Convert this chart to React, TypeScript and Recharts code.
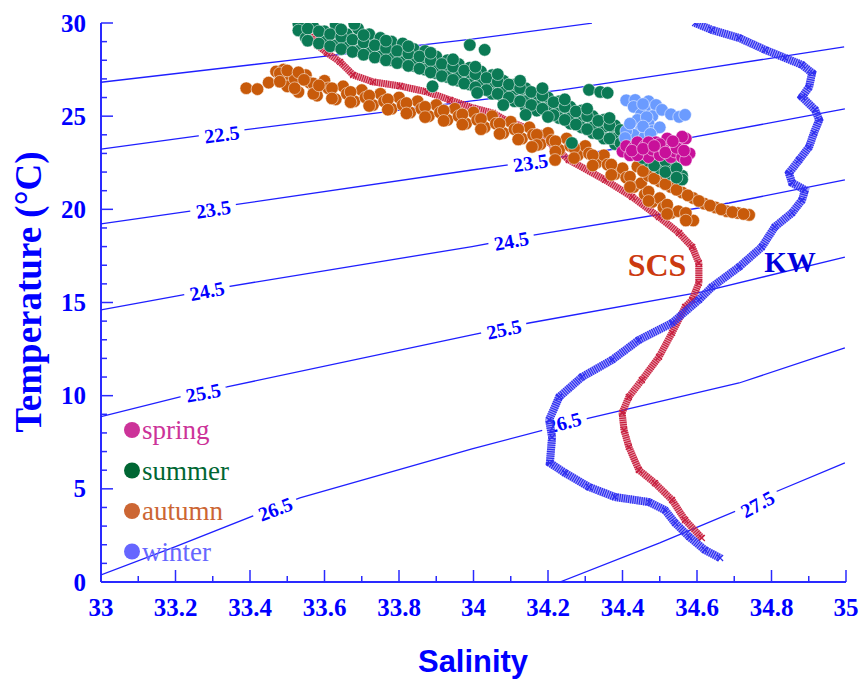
import React from 'react'
import { ComposedChart, Scatter, XAxis, YAxis } from 'recharts'

type P = { s: number; t: number }
const pts = (rows: number[][]): P[] => rows.map(([s, t]) => ({ s, t }))

const xTicks = [33, 33.1, 33.2, 33.3, 33.4, 33.5, 33.6, 33.7, 33.8, 33.9, 34, 34.1, 34.2, 34.3, 34.4, 34.5, 34.6, 34.7, 34.8, 34.9, 35]
const yTicks = [0, 1, 2, 3, 4, 5, 6, 7, 8, 9, 10, 11, 12, 13, 14, 15, 16, 17, 18, 19, 20, 21, 22, 23, 24, 25, 26, 27, 28, 29, 30]

// isopycnals (sigma-theta)
const sigma215 = pts([[33.0, 26.82], [33.5, 27.98], [33.996, 29.13], [34.318, 29.99]])
const sigma225 = pts([[33.0, 23.23], [33.32, 24.1], [33.996, 25.82], [34.238, 26.41], [34.6, 27.5], [34.995, 28.72]])
const sigma235 = pts([[33.0, 19.22], [33.3, 20.08], [33.996, 22.11], [34.149, 22.54], [34.579, 23.83], [34.997, 25.39]])
const sigma245 = pts([[33.0, 14.6], [33.22, 15.41], [33.285, 15.67], [33.996, 18.0], [34.165, 18.63], [34.686, 20.34], [34.997, 21.58]])
const sigma255 = pts([[33.0, 8.87], [33.266, 10.2], [33.338, 10.47], [33.996, 13.26], [34.149, 13.9], [34.613, 15.57], [34.997, 17.44]])
const sigma265 = pts([[33.0, 0.38], [33.2, 1.9], [33.462, 3.97], [33.534, 4.51], [33.996, 7.14], [34.31, 8.8], [34.713, 10.68], [34.997, 12.56]])
const sigma275 = pts([[34.232, 0.0], [34.5, 2.1], [34.756, 4.24], [34.81, 4.83], [34.997, 6.39]])

const contours = [sigma215, sigma225, sigma235, sigma245, sigma255, sigma265, sigma275]

const contourLabels = [
  { s: 33.324, t: 24.08, sigma: '22.5' },
  { s: 33.301, t: 20.06, sigma: '23.5' },
  { s: 33.284, t: 15.67, sigma: '24.5' },
  { s: 33.274, t: 10.21, sigma: '25.5' },
  { s: 33.467, t: 3.96, sigma: '26.5' },
  { s: 34.153, t: 22.56, sigma: '23.5' },
  { s: 34.101, t: 18.36, sigma: '24.5' },
  { s: 34.081, t: 13.62, sigma: '25.5' },
  { s: 34.242, t: 8.61, sigma: '26.5' },
  { s: 34.761, t: 4.22, sigma: '27.5' },
]

// reference profiles
const scsProfile = pts([
  [33.569, 30.0], [33.574, 29.09], [33.58, 28.82], [33.607, 28.4], [33.642, 27.91], [33.677, 27.21],
  [33.73, 26.84], [33.803, 26.62], [33.875, 26.3], [33.937, 25.87], [33.999, 25.44], [34.052, 25.17],
  [34.085, 24.8], [34.176, 24.1], [34.213, 23.4], [34.256, 22.65], [34.353, 21.58], [34.426, 20.67],
  [34.498, 19.59], [34.552, 18.73], [34.587, 17.98], [34.605, 17.12], [34.605, 16.05], [34.587, 15.14],
  [34.568, 14.76], [34.533, 13.37], [34.498, 12.08], [34.452, 10.84], [34.417, 9.93], [34.399, 9.07],
  [34.404, 8.16], [34.417, 7.25], [34.444, 6.01], [34.487, 5.31], [34.533, 4.4], [34.568, 3.33],
  [34.613, 2.36],
])

const kwProfile = pts([
  [34.595, 30.0], [34.64, 29.63], [34.713, 29.2], [34.783, 28.56], [34.836, 28.13], [34.882, 27.75],
  [34.909, 27.32], [34.901, 26.57], [34.882, 26.03], [34.917, 25.34], [34.928, 24.8], [34.914, 24.1],
  [34.901, 23.35], [34.874, 22.65], [34.847, 21.95], [34.855, 21.42], [34.89, 21.04], [34.882, 20.5],
  [34.855, 19.81], [34.809, 19.06], [34.774, 17.98], [34.713, 16.91], [34.64, 15.83], [34.605, 15.14],
  [34.533, 13.9], [34.444, 12.99], [34.372, 11.92], [34.291, 11.0], [34.23, 9.93], [34.203, 8.7],
  [34.211, 7.78], [34.205, 6.39], [34.246, 5.85], [34.31, 5.1], [34.38, 4.56], [34.471, 4.29],
  [34.514, 3.86], [34.541, 3.17], [34.579, 2.42], [34.621, 1.72], [34.662, 1.29],
])

// seasonal observations
const summer = pts([
  [33.53, 29.95], [33.53, 29.6], [33.55, 29.2], [33.57, 29.8], [33.6, 29.55], [33.6, 29.0], [33.63, 29.9], [33.63, 28.8],
  [33.66, 29.4], [33.66, 28.9], [33.69, 29.2], [33.69, 28.5], [33.69, 29.7], [33.72, 29.0], [33.72, 28.4], [33.72, 29.4],
  [33.75, 28.8], [33.75, 28.2], [33.75, 29.2], [33.78, 28.6], [33.78, 28.0], [33.78, 29.0], [33.78, 28.3],
  [33.81, 28.5], [33.81, 27.9], [33.81, 28.9], [33.84, 28.3], [33.84, 27.7], [33.84, 28.6], [33.84, 28.0],
  [33.87, 28.1], [33.87, 27.5], [33.87, 28.5], [33.9, 27.9], [33.9, 27.3], [33.9, 28.2], [33.9, 27.6],
  [33.93, 27.7], [33.93, 27.1], [33.93, 28.0], [33.96, 27.5], [33.96, 26.9], [33.96, 27.8], [33.96, 27.2],
  [33.99, 27.3], [33.99, 26.7], [33.99, 27.6], [34.02, 27.1], [34.02, 26.4], [34.02, 27.4], [34.02, 26.8],
  [34.05, 26.8], [34.05, 26.2], [34.05, 27.2], [34.08, 26.6], [34.08, 26.0], [34.08, 26.9], [34.08, 26.3],
  [34.11, 26.4], [34.11, 25.8], [34.11, 26.7], [34.14, 26.1], [34.14, 25.5], [34.14, 26.5], [34.14, 25.8],
  [34.17, 25.9], [34.17, 25.3], [34.17, 26.2], [34.2, 25.7], [34.2, 25.1], [34.2, 26.0], [34.2, 25.4],
  [34.23, 25.4], [34.23, 24.9], [34.23, 25.8], [34.26, 25.2], [34.26, 24.6], [34.26, 25.5], [34.26, 24.9],
  [34.29, 24.9], [34.29, 24.4], [34.29, 25.3], [34.32, 24.7], [34.32, 24.1], [34.32, 25.0], [34.32, 24.4],
  [34.35, 24.4], [34.35, 23.8], [34.35, 24.8], [34.38, 24.1], [34.38, 23.5], [34.38, 24.5], [34.38, 23.8],
  [34.41, 23.8], [34.41, 23.2], [34.41, 24.2], [34.44, 23.4], [34.44, 22.9], [34.44, 23.8], [34.44, 23.1],
  [34.47, 23.0], [34.47, 22.6], [34.47, 23.4], [34.5, 22.6], [34.5, 22.2], [34.5, 22.9], [34.53, 22.2],
  [34.53, 21.9], [34.53, 22.5], [34.56, 21.8], [34.56, 21.6],
  [33.555, 29.7], [33.555, 29.05], [33.585, 29.55], [33.585, 28.9], [33.615, 29.4], [33.615, 28.75],
  [33.645, 29.25], [33.645, 28.6], [33.645, 29.65], [33.675, 29.1], [33.675, 28.45], [33.705, 28.95],
  [33.705, 28.3], [33.705, 29.35], [33.735, 28.8], [33.735, 28.15], [33.765, 28.65], [33.765, 28.0],
  [33.765, 29.05], [33.795, 28.5], [33.795, 27.85], [33.825, 28.35], [33.825, 27.7], [33.825, 28.75],
  [33.855, 28.2], [33.855, 27.55], [33.885, 28.0], [33.885, 27.35], [33.885, 28.4], [33.915, 27.8],
  [33.915, 27.15], [33.945, 27.65], [33.945, 26.95], [33.945, 28.05], [33.975, 27.45], [33.975, 26.75],
  [34.005, 27.25], [34.005, 26.55], [34.005, 27.65], [34.035, 27.05], [34.035, 26.4], [34.065, 26.85],
  [34.065, 26.2], [34.065, 27.25], [34.095, 26.7], [34.095, 26.0], [34.125, 26.5], [34.125, 25.8],
  [34.125, 26.9], [34.155, 26.3], [34.155, 25.6], [34.185, 26.1], [34.185, 25.4], [34.185, 26.5],
  [34.215, 25.75], [34.215, 25.05], [34.245, 25.5], [34.245, 24.8], [34.245, 25.9], [34.275, 25.25],
  [34.275, 24.55], [34.305, 25.0], [34.305, 24.3], [34.305, 25.4], [34.335, 24.75], [34.335, 24.05],
  [34.365, 24.5], [34.365, 23.8], [34.365, 24.9], [34.395, 24.25], [34.395, 23.55], [34.425, 23.85],
  [34.425, 23.15], [34.455, 23.45], [34.455, 22.75], [34.485, 23.0], [34.485, 22.35], [34.515, 22.6],
  [34.515, 22.0], [34.545, 22.2], [34.545, 21.7],
  [33.99, 28.82], [34.03, 28.56], [34.31, 26.41], [34.34, 26.3], [34.36, 26.25], [33.68, 29.95],
  [33.89, 26.6], [34.01, 26.25], [34.08, 25.6], [34.14, 25.07], [34.2, 24.96], [34.264, 23.56],
])

const autumn = pts([
  [33.39, 26.5], [33.42, 26.45], [33.45, 26.8],
  [33.47, 27.4], [33.49, 27.5], [33.51, 27.1], [33.5, 26.6], [33.53, 26.3], [33.55, 27.2], [33.56, 26.8],
  [33.58, 26.1], [33.6, 26.9], [33.61, 26.5], [33.63, 25.9], [33.65, 26.6], [33.66, 26.2], [33.68, 25.8],
  [33.7, 26.4], [33.71, 26.0], [33.73, 25.6], [33.75, 26.2], [33.76, 25.8], [33.78, 25.4], [33.8, 26.0],
  [33.81, 25.6], [33.83, 25.2], [33.85, 25.8], [33.86, 25.4], [33.88, 25.0], [33.9, 25.6], [33.91, 25.2],
  [33.93, 24.8], [33.95, 25.4], [33.96, 25.0], [33.98, 24.6], [34.0, 25.2], [34.01, 24.8], [34.03, 24.4],
  [34.05, 25.0], [34.06, 24.6], [34.08, 24.1], [34.1, 24.7], [34.11, 24.3], [34.13, 23.8], [34.15, 24.4],
  [34.16, 24.0], [34.18, 23.5], [34.2, 24.1], [34.21, 23.7], [34.23, 23.2], [34.25, 23.8], [34.26, 23.4],
  [34.28, 22.9], [34.3, 23.4], [34.31, 23.0], [34.33, 22.5], [34.35, 22.9], [34.36, 22.4], [34.38, 21.9],
  [34.4, 22.2], [34.41, 21.7], [34.43, 21.2], [34.45, 21.4], [34.46, 20.8], [34.48, 20.4], [34.5, 20.6],
  [34.51, 20.1], [34.53, 19.8], [34.55, 19.9], [34.57, 19.5], [34.59, 19.4],
  [33.48, 27.3], [33.48, 26.85], [33.52, 27.0], [33.52, 26.5], [33.57, 26.75], [33.57, 26.2], [33.62, 26.5],
  [33.62, 25.95], [33.67, 26.3], [33.67, 25.75], [33.72, 26.1], [33.72, 25.55], [33.77, 25.9], [33.77, 25.35],
  [33.82, 25.7], [33.82, 25.15], [33.87, 25.5], [33.87, 24.95], [33.92, 25.3], [33.92, 24.75], [33.97, 25.1],
  [33.97, 24.55], [34.02, 24.85], [34.02, 24.3], [34.07, 24.6], [34.07, 24.05], [34.12, 24.3], [34.12, 23.75],
  [34.17, 24.0], [34.17, 23.45], [34.22, 23.65], [34.22, 23.1], [34.27, 23.3], [34.27, 22.75], [34.32, 22.9],
  [34.32, 22.35], [34.37, 22.4], [34.37, 21.85], [34.42, 21.75], [34.42, 21.2], [34.47, 20.95], [34.47, 20.45],
  [34.52, 20.25], [34.52, 19.75], [34.57, 19.8], [34.57, 19.4],
  [33.5, 27.45], [33.53, 27.35], [33.545, 26.95], [33.585, 26.65],
  [34.44, 22.3], [34.47, 21.8], [34.5, 21.5], [34.53, 21.2], [34.56, 20.9], [34.59, 20.6], [34.62, 20.3],
  [34.65, 20.1], [34.68, 19.9], [34.71, 19.8], [34.74, 19.7],
  [34.455, 22.05], [34.485, 21.65], [34.515, 21.35], [34.545, 21.05], [34.575, 20.75], [34.605, 20.45],
  [34.635, 20.2], [34.665, 20.0], [34.695, 19.85], [34.725, 19.75],
  [34.219, 22.65], [34.157, 23.35],
])

const spring = pts([
  [34.4, 23.1], [34.41, 23.4], [34.42, 22.9], [34.43, 23.3], [34.44, 23.6], [34.45, 23.0], [34.46, 23.4],
  [34.47, 22.8], [34.48, 23.2], [34.49, 23.6], [34.5, 22.9], [34.51, 23.3], [34.52, 23.8], [34.53, 22.8],
  [34.54, 23.1], [34.55, 23.5], [34.56, 22.8], [34.57, 23.8], [34.58, 23.0], [34.56, 23.9], [34.5, 23.5],
  [34.47, 23.6], [34.44, 22.9], [34.57, 22.65], [34.425, 23.15], [34.455, 23.25], [34.485, 23.4],
  [34.515, 23.05], [34.545, 23.3], [34.535, 23.65], [34.565, 23.15],
])

const winter = pts([
  [34.41, 25.85], [34.434, 25.87], [34.47, 25.8], [34.43, 25.5], [34.46, 25.4], [34.49, 25.6], [34.45, 25.1],
  [34.48, 25.0], [34.44, 24.8], [34.47, 24.6], [34.45, 24.3], [34.48, 24.2], [34.43, 24.0], [34.46, 23.9],
  [34.41, 24.2], [34.407, 23.83], [34.506, 25.34], [34.53, 25.1], [34.552, 24.96], [34.568, 25.07],
  [34.5, 24.4], [34.42, 24.6], [34.455, 25.65], [34.465, 24.95], [34.455, 24.45], [34.475, 24.05],
])

const seasons = [
  { name: 'spring', data: spring, fill: '#c8109a', legend: '#cc3399' },
  { name: 'summer', data: summer, fill: '#0b7a55', legend: '#006633' },
  { name: 'autumn', data: autumn, fill: '#c85a0a', legend: '#cc6633' },
  { name: 'winter', data: winter, fill: '#6b9bff', legend: '#6666ff' },
]
const drawOrder = ['autumn', 'summer', 'winter', 'spring']

const AXIS = '#2a2aff'
const FONT = '"Liberation Serif", "Times New Roman", serif'
const W = 861
const H = 681
const M = { top: 23, right: 15, left: 41, bottom: 69 }
const Y_W = 60
const X_H = 30
const plotW = W - M.left - M.right - Y_W
const plotH = H - M.top - M.bottom - X_H
const pxS = plotW / 2
const pxT = plotH / 30

const fmtS = (v: number) => {
  const r = Math.round(v * 10) / 10
  return Number.isInteger(r) ? String(r) : r.toFixed(1)
}

function SalinityTick(props: any) {
  const { x, y, payload } = props
  const v = payload.value as number
  const major = Math.round(v * 10) % 2 === 0
  return (
    <g>
      <line x1={x} x2={x} y1={y} y2={y - (major ? 12 : 6)} stroke={AXIS} strokeWidth={1.5} />
      {major && (
        <text x={x} y={y + 25} textAnchor="middle" dominantBaseline="central" fill="#0000ff"
          style={{ fontFamily: FONT, fontWeight: 700, fontSize: 25 }}>
          {fmtS(v)}
        </text>
      )}
    </g>
  )
}

function TempTick(props: any) {
  const { x, y, payload } = props
  const v = payload.value as number
  const major = v % 5 === 0
  return (
    <g>
      <line x1={x} x2={x + (major ? 12 : 6)} y1={y} y2={y} stroke={AXIS} strokeWidth={1.5} />
      {major && (
        <text x={x - 15} y={y} textAnchor="end" dominantBaseline="central" fill="#0000ff"
          style={{ fontFamily: FONT, fontWeight: 700, fontSize: 25 }}>
          {v}
        </text>
      )}
    </g>
  )
}

const nothing = () => <g />

function labelAngle(sigma: string, s: number) {
  const idx = ['21.5', '22.5', '23.5', '24.5', '25.5', '26.5', '27.5'].indexOf(sigma)
  const line = contours[idx]
  let i = 0
  while (i < line.length - 2 && line[i + 1].s < s) i++
  const a = line[i]
  const b = line[i + 1]
  return (-Math.atan2((b.t - a.t) * pxT, (b.s - a.s) * pxS) * 180) / Math.PI
}

function ContourLabel(props: any) {
  const { cx, cy, payload } = props
  const ang = labelAngle(payload.sigma, payload.s)
  return (
    <g transform={`translate(${cx},${cy}) rotate(${ang})`}>
      <rect x={-23} y={-10} width={46} height={20} fill="#fff" />
      <text x={0} y={1} textAnchor="middle" dominantBaseline="central" fill="#0000ff"
        style={{ fontFamily: FONT, fontWeight: 700, fontSize: 20 }}>
        {payload.sigma}
      </text>
    </g>
  )
}

const crossShape = (color: string) => (props: any) => {
  const { cx, cy } = props
  return (
    <path d={`M${cx - 3},${cy - 3}L${cx + 3},${cy + 3}M${cx - 3},${cy + 3}L${cx + 3},${cy - 3}`}
      stroke={color} strokeWidth={1.2} />
  )
}

const dotShape = (fill: string) => (props: any) => {
  const { cx, cy } = props
  return <circle cx={cx} cy={cy} r={6.3} fill={fill} stroke="#ffffff" strokeWidth={0.7} strokeOpacity={0.75} />
}

export default function App() {
  return (
    <div style={{ position: 'relative', width: W, height: H }}>
      <style>{'body{margin:0}'}</style>
      <ComposedChart width={W} height={H} margin={M}>
        <XAxis dataKey="s" type="number" domain={[33, 35]} allowDataOverflow ticks={xTicks} interval={0}
          tick={<SalinityTick />} tickLine={false} tickSize={0} tickMargin={0} height={X_H}
          axisLine={{ stroke: AXIS, strokeWidth: 2 }} />
        <XAxis xAxisId="top" orientation="top" type="number" domain={[33, 35]} height={0}
          tick={false} tickLine={false} axisLine={{ stroke: AXIS, strokeWidth: 2 }} />
        <YAxis dataKey="t" type="number" domain={[0, 30]} allowDataOverflow ticks={yTicks} interval={0}
          tick={<TempTick />} tickLine={false} tickSize={0} tickMargin={0} width={Y_W}
          axisLine={{ stroke: AXIS, strokeWidth: 2 }} />
        <YAxis yAxisId="right" orientation="right" type="number" domain={[0, 30]} width={0}
          tick={false} tickLine={false} axisLine={{ stroke: AXIS, strokeWidth: 2 }} />

        {contours.map((c, i) => (
          <Scatter key={`c${i}`} data={c} line={{ stroke: '#1f1fff', strokeWidth: 1.3 }} lineType="joint"
            shape={nothing} isAnimationActive={false} />
        ))}
        <Scatter data={contourLabels} shape={<ContourLabel />} isAnimationActive={false} />

        <Scatter data={scsProfile} line={{ stroke: '#d23a55', strokeWidth: 7, strokeOpacity: 0.5 }}
          lineType="joint" shape={nothing} isAnimationActive={false} />
        <Scatter data={scsProfile} line={{ stroke: '#c8203f', strokeWidth: 7, strokeDasharray: '1.2 1' }}
          lineType="joint" shape={crossShape('#c8203f')} isAnimationActive={false} />
        <Scatter data={kwProfile} line={{ stroke: '#4a4af5', strokeWidth: 8, strokeOpacity: 0.5 }}
          lineType="joint" shape={nothing} isAnimationActive={false} />
        <Scatter data={kwProfile} line={{ stroke: '#2f2ff0', strokeWidth: 8, strokeDasharray: '1.2 1' }}
          lineType="joint" shape={crossShape('#2f2ff0')} isAnimationActive={false} />

        {drawOrder.map((n) => {
          const se = seasons.find((x) => x.name === n)!
          return <Scatter key={se.name} name={se.name} data={se.data} shape={dotShape(se.fill)} isAnimationActive={false} />
        })}
      </ComposedChart>

      <svg width={W} height={H} style={{ position: 'absolute', left: 0, top: 0, pointerEvents: 'none' }}>
        <text x={28} y={292} transform="rotate(-90 28 292)" textAnchor="middle" dominantBaseline="central"
          fill="#0000ff" style={{ fontFamily: FONT, fontWeight: 700, fontSize: 37 }}>
          Temperature (°C)
        </text>
        <text x={473} y={661} textAnchor="middle" dominantBaseline="central" fill="#0000ff" textLength={110}
          lengthAdjust="spacingAndGlyphs"
          style={{ fontFamily: '"Liberation Sans Narrow", "Liberation Sans", Arial, sans-serif', fontWeight: 700, fontSize: 32 }}>
          Salinity
        </text>
        {seasons.map((se, i) => (
          <g key={se.name}>
            <circle cx={132} cy={430 + i * 40.5} r={8} fill={se.legend} />
            <text x={142} y={430 + i * 40.5} dominantBaseline="central" fill={se.legend}
              style={{ fontFamily: FONT, fontSize: 27 }}>
              {se.name}
            </text>
          </g>
        ))}
        <text x={657} y={265} textAnchor="middle" dominantBaseline="central" fill="#cc3a10"
          style={{ fontFamily: FONT, fontWeight: 700, fontSize: 32 }}>
          SCS
        </text>
        <text x={790} y={262} textAnchor="middle" dominantBaseline="central" fill="#0000dd"
          style={{ fontFamily: FONT, fontWeight: 700, fontSize: 29 }}>
          KW
        </text>
      </svg>
    </div>
  )
}
